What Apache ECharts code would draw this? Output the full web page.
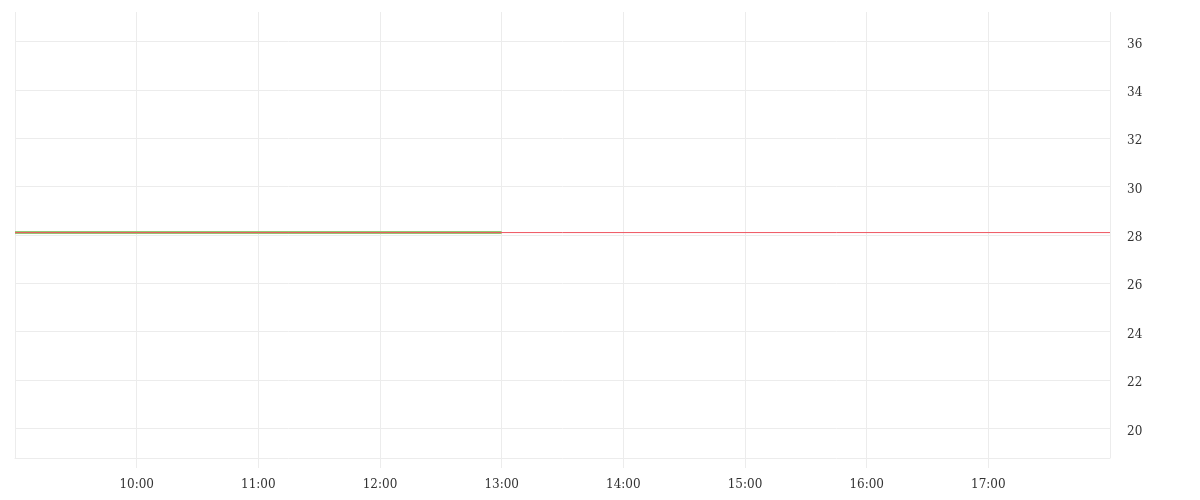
<!DOCTYPE html>
<html>
<head>
<meta charset="utf-8">
<script src="https://cdn.jsdelivr.net/npm/echarts@6/dist/echarts.min.js"></script>
<style>
html,body{margin:0;padding:0;background:#fff;}
#chart{width:1200px;height:500px;}
</style>
</head>
<body>
<div id="chart"></div>
<script>
// Tick labels (hours on the x axis)
const hourTicks = ['09:00','10:00','11:00','12:00','13:00','14:00','15:00','16:00','17:00','18:00'];
// Price series (green), traded from 09:00 to 13:00, flat
const priceTimes = ['09:00','13:00'];
const priceValues = [28.1, 28.1];
// Reference line (red), spans the full session
const refTimes = ['09:00','18:00'];
const refValues = [28.1, 28.1];
// Y axis range
const yMin = 18.78;
const yMax = 37.22;

function toMin(t){const p=t.split(':');return (+p[0])*60+(+p[1]);}
function fmt(m){const h=Math.floor(m/60),mm=m%60;return (h<10?'0':'')+h+':'+(mm<10?'0':'')+mm;}

const chart = echarts.init(document.getElementById('chart'));
const grid = '#ececec';
const font = 'DejaVu Serif';
chart.setOption({
  animation:false,
  grid:{left:15,right:90,top:12,bottom:42},
  xAxis:{
    type:'value',
    min:toMin(hourTicks[0]),
    max:toMin(hourTicks[hourTicks.length-1]),
    interval:60,
    axisLine:{show:true,lineStyle:{color:grid,width:1}},
    axisTick:{show:true,length:10,lineStyle:{color:grid}},
    splitLine:{show:true,lineStyle:{color:grid}},
    axisLabel:{show:true,showMinLabel:false,showMaxLabel:false,margin:21,color:'#333',fontSize:12,fontFamily:font,
      formatter:function(v){return fmt(v);}}
  },
  yAxis:{
    type:'value',
    position:'right',
    min:yMin,max:yMax,
    splitNumber:9,
    axisLine:{show:false},
    axisTick:{show:false},
    splitLine:{show:true,showMinLine:false,showMaxLine:false,lineStyle:{color:grid}},
    axisLabel:{showMinLabel:false,showMaxLabel:false,margin:17,color:'#333',fontSize:12,fontFamily:font,
      formatter:function(v){return '{a|'+v+'}';},
      rich:{a:{fontFamily:font,fontSize:12,color:'#333',padding:[6,0,0,0]}}}
  },
  series:[
    {type:'line',name:'price',symbol:'none',data:priceTimes.map((t,i)=>[toMin(t),priceValues[i]]),
      lineStyle:{color:'#91cc75',width:3},z:2},
    {type:'line',name:'ref',symbol:'none',data:refTimes.map((t,i)=>[toMin(t),refValues[i]]),
      lineStyle:{color:'#ee5560',width:1},z:3}
  ]
});
</script>
</body>
</html>
